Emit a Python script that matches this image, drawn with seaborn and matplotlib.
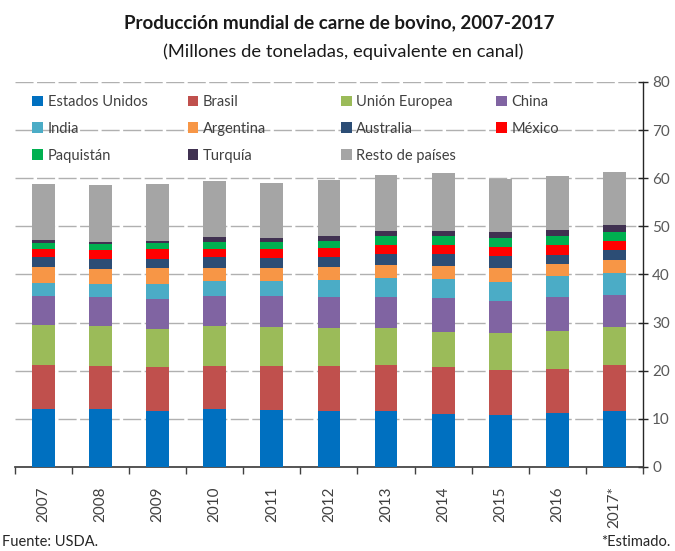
import matplotlib
matplotlib.use("Agg")
import matplotlib.pyplot as plt
from matplotlib.patches import Patch
import numpy as np
import pandas as pd
import seaborn as sns

sns.set_theme(style="white")
plt.rcParams['font.family'] = ['Lato', 'DejaVu Sans']

# Datos (millones de toneladas)
years = ["2007", "2008", "2009", "2010", "2011", "2012", "2013", "2014", "2015", "2016", "2017*"]
estados_unidos = [12.0, 12.0, 11.7, 12.0, 11.9, 11.7, 11.6, 11.0, 10.7, 11.3, 11.7]
brasil = [9.2, 9.0, 9.0, 9.0, 9.0, 9.3, 9.6, 9.7, 9.5, 9.1, 9.4]
union_europea = [8.3, 8.2, 7.9, 8.2, 8.1, 7.8, 7.6, 7.4, 7.6, 7.9, 7.9]
china = [6.1, 6.1, 6.3, 6.4, 6.5, 6.5, 6.6, 7.0, 6.7, 7.0, 6.8]
india = [2.6, 2.7, 3.1, 3.1, 3.2, 3.5, 3.8, 4.0, 4.0, 4.3, 4.5]
argentina = [3.3, 3.2, 3.3, 2.7, 2.7, 2.7, 2.8, 2.7, 2.9, 2.5, 2.7]
australia = [2.1, 2.1, 2.0, 2.2, 2.0, 2.1, 2.3, 2.5, 2.5, 2.0, 2.0]
mexico = [1.7, 1.7, 2.0, 1.7, 1.9, 1.9, 1.9, 1.9, 1.8, 2.0, 1.9]
paquistan = [1.3, 1.4, 1.3, 1.5, 1.5, 1.5, 1.7, 1.7, 1.8, 1.8, 1.9]
turquia = [0.6, 0.4, 0.4, 0.9, 0.8, 1.1, 1.2, 1.2, 1.4, 1.4, 1.4]
resto = [11.6, 11.8, 11.8, 11.8, 11.5, 11.5, 11.5, 11.9, 11.0, 11.1, 11.1]

series = ["Estados Unidos", "Brasil", "Unión Europea", "China", "India", "Argentina",
          "Australia", "México", "Paquistán", "Turquía", "Resto de países"]
values = [estados_unidos, brasil, union_europea, china, india, argentina,
          australia, mexico, paquistan, turquia, resto]
colors = ["#0070C0", "#C0504D", "#9BBB59", "#8064A2", "#4BACC6", "#F79646",
          "#2C4D75", "#FF0000", "#00B050", "#403151", "#A5A5A5"]

df = pd.DataFrame(dict(zip(series, values)), index=years)
cum = df.cumsum(axis=1)

fig = plt.figure(figsize=(6.75, 5.51), dpi=100)
ax = fig.add_axes([0.0218, 0.1525, 0.931, 0.6987])

# stacked bars: draw cumulative totals from the top layer down
for name, col in reversed(list(zip(series, colors))):
    sns.barplot(x=years, y=cum[name].values, color=col, width=0.4,
                saturation=1, linewidth=0, ax=ax, zorder=3)

ax.set_ylim(0, 80)
ax.set_xlim(-0.5, len(years) - 0.5)
ax.set_yticks(range(0, 81, 10))
ax.yaxis.tick_right()
ax.set_xlabel("")
ax.set_ylabel("")
ax.grid(axis="y", color="#B0B0B0", linewidth=1, linestyle=(0, (13, 2.5)), zorder=0)
ax.grid(axis="x", visible=False)

for s in ["top", "left"]:
    ax.spines[s].set_visible(False)
ax.spines["right"].set_color("#262626")
ax.spines["bottom"].set_color("#404040")
ax.spines["right"].set_linewidth(1)

ax.tick_params(axis="y", right=True, direction="inout", length=7, width=1,
               color="#262626", labelsize=11, labelcolor="#595959", pad=3)
ax.set_xticks(range(len(years)))
ax.set_xticklabels(years, rotation=90, fontsize=11, color="#404040")
ax.tick_params(axis="x", bottom=False, pad=8)
ax.set_xticks(np.arange(-0.5, len(years)), minor=True)
ax.tick_params(axis="x", which="minor", bottom=True, length=5, width=1, color="#404040")

# legend: four fixed-width columns, three rows (filled by rows)
col_x = [0.028, 0.275, 0.519, 0.766]
for c in range(4):
    idx = [i for i in range(len(series)) if i % 4 == c]
    handles = [Patch(facecolor=colors[i], edgecolor="none") for i in idx]
    labels = [series[i] for i in idx]
    leg = ax.legend(handles, labels, loc="upper left", bbox_to_anchor=(col_x[c], 0.966),
                    frameon=False, fontsize=10.5, handlelength=0.75, handleheight=0.75,
                    handletextpad=0.3, labelspacing=0.88, borderpad=0, borderaxespad=0,
                    labelcolor="#404040")
    if c < 3:
        ax.add_artist(leg)

fig.text(0.503, 0.958, "Producción mundial de carne de bovino, 2007-2017", ha="center",
         va="center", fontsize=13.5, fontweight="bold", color="#1a1a1a")
fig.text(0.508, 0.906, "(Millones de toneladas, equivalente en canal)", ha="center",
         va="center", fontsize=13.2, color="#1a1a1a")
fig.text(0.003, 0.004, "Fuente: USDA.", ha="left", va="bottom", fontsize=10.5, color="#262626")
fig.text(0.993, 0.004, "*Estimado.", ha="right", va="bottom", fontsize=10.5, color="#262626")

fig.savefig("out.png", dpi=100)
